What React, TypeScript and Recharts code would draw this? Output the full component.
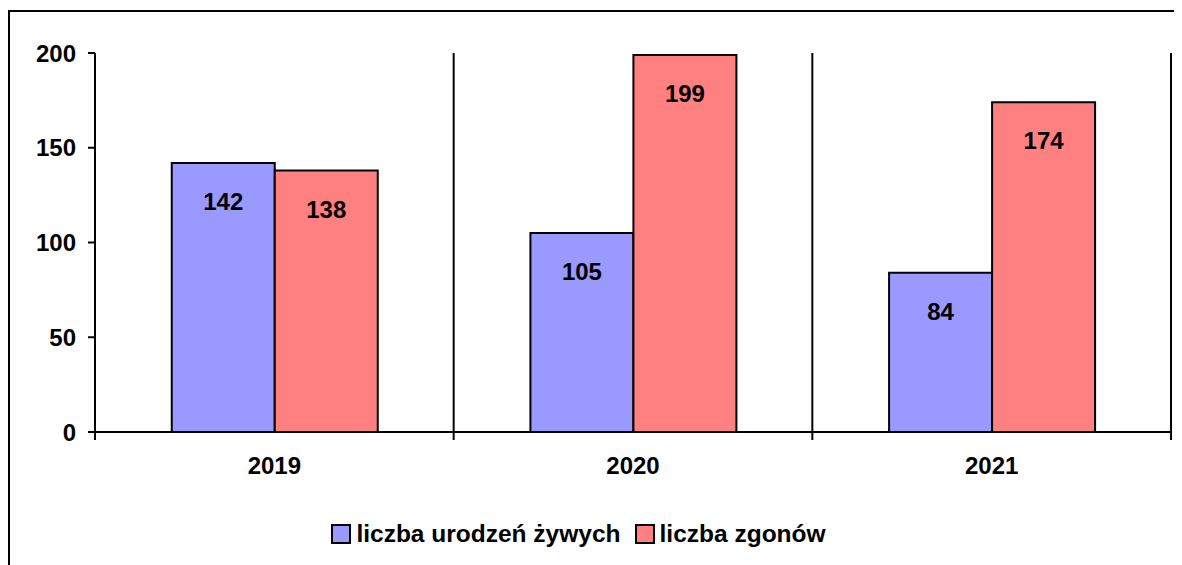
import React from 'react';
import { BarChart, Bar, XAxis, YAxis, CartesianGrid, Legend, LabelList } from 'recharts';

const years = ['2019', '2020', '2021'];
const births = [142, 105, 84];
const deaths = [138, 199, 174];
const yTicks = [0, 50, 100, 150, 200];

const seriesNames = ['liczba urodzeń żywych', 'liczba zgonów'];
const seriesColors = ['#9999FF', '#FF8080'];

const data = years.map((year, i) => ({ year, births: births[i], deaths: deaths[i] }));

const FONT = '"Liberation Sans", Arial, sans-serif';
const FONT_SIZE = 24;
const TICK_SIZE = 8;
const TICK_MARGIN = 17;

const YearTick = (props: any) => {
  const { x, y, payload, index, width } = props;
  const half = payload && payload.offset ? payload.offset : width / years.length / 2;
  const axisY = y - TICK_MARGIN - TICK_SIZE;
  return (
    <g>
      {index === 0 && (
        <line x1={x - half} x2={x - half} y1={axisY} y2={axisY + TICK_SIZE} stroke="#000" strokeWidth={2} />
      )}
      <line x1={x + half} x2={x + half} y1={axisY} y2={axisY + TICK_SIZE} stroke="#000" strokeWidth={2} />
      <text x={x} y={y} dy="0.71em" textAnchor="middle" fontFamily={FONT} fontWeight="bold" fontSize={FONT_SIZE} fill="#000">
        {payload.value}
      </text>
    </g>
  );
};

const LegendBox = () => (
  <div style={{ display: 'flex', justifyContent: 'center', alignItems: 'center', paddingRight: 22, fontFamily: FONT, fontWeight: 'bold', fontSize: 24.5, color: '#000' }}>
    {seriesNames.map((name, i) => (
      <div key={name} style={{ display: 'flex', alignItems: 'center', marginRight: i === 0 ? 14 : 0 }}>
        <span style={{ display: 'inline-block', width: 16, height: 16, background: seriesColors[i], border: '2px solid #000', marginRight: 5 }} />
        <span>{name}</span>
      </div>
    ))}
  </div>
);

const App = () => {
  return (
    <div style={{ position: 'relative', width: 1174, height: 557, overflow: 'hidden' }}>
      <div style={{ position: 'absolute', left: 0, top: 2, width: 1300, height: 700, border: '2px solid #000' }} />
      <div style={{ position: 'absolute', left: 0, top: 0 }}>
        <BarChart
          width={1174}
          height={557}
          data={data}
          margin={{ top: 45, right: 11, left: 0, bottom: 43 }}
          barCategoryGap="21.4%"
          barGap={0}
        >
          <CartesianGrid
            horizontal={false}
            stroke="#000"
            strokeWidth={2}
            verticalCoordinatesGenerator={({ offset }: any) =>
              years.map((_, i) => offset.left + (offset.width * (i + 1)) / years.length)
            }
          />
          <XAxis
            dataKey="year"
            axisLine={{ stroke: '#000', strokeWidth: 2 }}
            tickLine={false}
            tickSize={TICK_SIZE}
            tickMargin={TICK_MARGIN}
            height={50}
            tick={<YearTick />}
          />
          <YAxis
            domain={[0, 200]}
            ticks={yTicks}
            width={87}
            axisLine={{ stroke: '#000', strokeWidth: 2 }}
            tickLine={{ stroke: '#000', strokeWidth: 2 }}
            tickSize={7}
            tickMargin={12}
            tick={{ fill: '#000', fontFamily: FONT, fontWeight: 'bold', fontSize: FONT_SIZE }}
          />
          <Legend verticalAlign="bottom" height={40} wrapperStyle={{ bottom: 5 }} content={<LegendBox />} />
          <Bar dataKey="births" name={seriesNames[0]} fill={seriesColors[0]} stroke="#000" strokeWidth={2} isAnimationActive={false}>
            <LabelList dataKey="births" position="insideTop" offset={30} fill="#000" fontFamily={FONT} fontWeight="bold" fontSize={FONT_SIZE} />
          </Bar>
          <Bar dataKey="deaths" name={seriesNames[1]} fill={seriesColors[1]} stroke="#000" strokeWidth={2} isAnimationActive={false}>
            <LabelList dataKey="deaths" position="insideTop" offset={30} fill="#000" fontFamily={FONT} fontWeight="bold" fontSize={FONT_SIZE} />
          </Bar>
        </BarChart>
      </div>
    </div>
  );
};

export default App;
